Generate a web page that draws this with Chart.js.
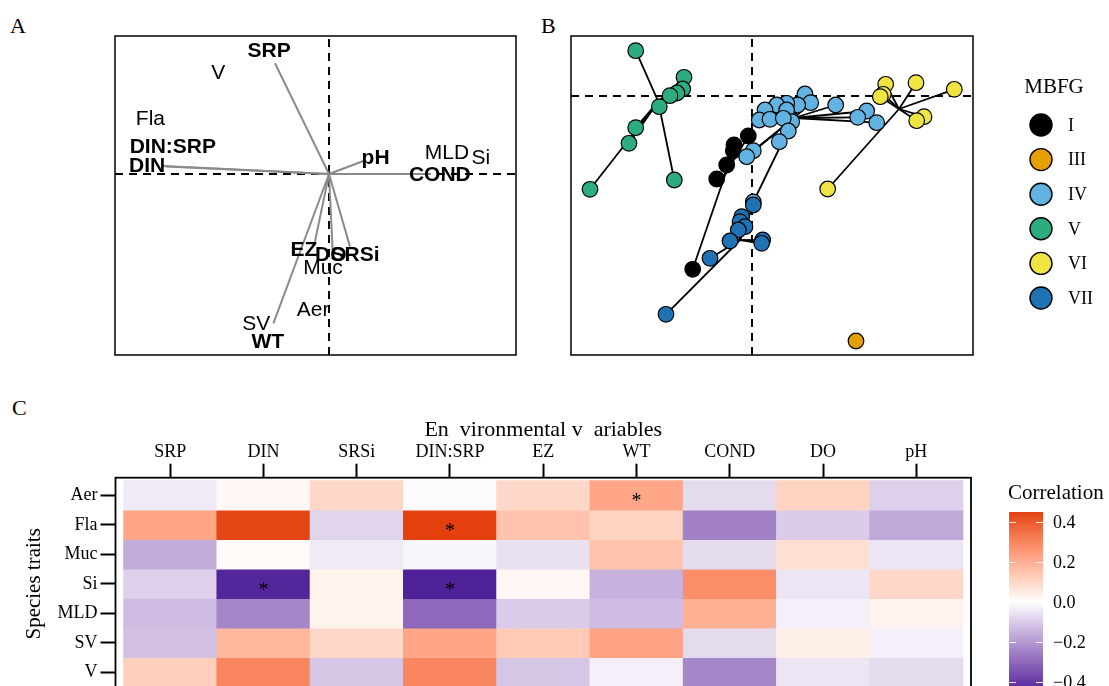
<!DOCTYPE html>
<html>
<head>
<meta charset="utf-8">
<script src="https://cdn.jsdelivr.net/npm/chart.js@4/dist/chart.umd.min.js"></script>
<style>
  html, body { margin: 0; padding: 0; width: 1109px; height: 686px; overflow: hidden; background: #fff; }
  canvas { position: absolute; }
  .tag { position: absolute; font-family: "Liberation Serif", "Times New Roman", serif; font-size: 22px; line-height: 22px; color: #000; }
</style>
</head>
<body>
<div class="tag" style="left:10px;top:15px">A</div>
<div class="tag" style="left:541px;top:15px">B</div>
<div class="tag" style="left:12px;top:397px">C</div>
<canvas id="panelA" width="430" height="350" style="left:100px;top:20px"></canvas>
<canvas id="panelB" width="549" height="350" style="left:560px;top:20px"></canvas>
<canvas id="panelC" width="1109" height="330" style="left:0px;top:380px"></canvas>
<script>
// ---------- Panel A: RDA biplot (environmental arrows + species-trait scores) ----------
const envVars   = ['SRP', 'DIN', 'SRSi', 'DIN:SRP', 'EZ', 'WT', 'COND', 'DO', 'pH'];
const envArrowX = [-0.270, -0.828, 0.105, -0.815, -0.072, -0.278, 0.510, 0.018, 0.172];
const envArrowY = [ 0.554,  0.040, -0.363, 0.037, -0.347, -0.747, 0.000, -0.380, 0.065];
const envLabelX = [-0.299, -0.909, 0.130, -0.781, -0.125, -0.306, 0.554, 0.009, 0.233];
const envLabelY = [ 0.612,  0.041, -0.405, 0.133, -0.380, -0.839, -0.004, -0.405, 0.079];

const traitNames  = ['Aer', 'Fla', 'Muc', 'Si', 'MLD', 'SV', 'V'];
const traitScoreX = [-0.079, -0.893, -0.030, 0.759, 0.590, -0.364, -0.554];
const traitScoreY = [-0.680,  0.274, -0.472, 0.077, 0.104, -0.750,  0.504];

// ---------- Panel B: site scores by MBFG group, joined to group centroids ----------
const groups      = ['I', 'III', 'IV', 'V', 'VI', 'VII'];
const groupColors = ['#000000', '#E69F00', '#62B3E2', '#2DAC80', '#F0E442', '#1F72B3'];

const xI   = [-0.037, -0.180, -0.187, -0.253, -0.353, -0.593];
const yI   = [-0.400, -0.490, -0.547, -0.690, -0.830, -1.733];
const xIII = [1.040];
const yIII = [-2.450];
const xIV  = [0.530, 0.587, 0.457, 0.347, 0.247, 0.130, 0.837, 1.147, 1.057, 1.247,
              0.073, 0.180, 0.347, 0.397, 0.313, 0.363, 0.273, 0.013, -0.053, 0.013];
const yIV  = [0.020, -0.067, -0.090, -0.073, -0.090, -0.140, -0.090, -0.150, -0.213, -0.267,
              -0.240, -0.233, -0.140, -0.257, -0.223, -0.350, -0.457, -0.547, -0.607, -1.060];
const xV   = [-1.163, -0.680, -0.693, -0.750, -0.820, -0.927, -1.163, -1.230, -1.620, -0.777];
const yV   = [ 0.453,  0.187,  0.070,  0.030,  0.003, -0.107, -0.317, -0.473, -0.933, -0.840];
const xVI  = [1.337, 1.640, 2.023, 1.313, 1.283, 1.720, 1.647, 0.757];
const yVI  = [0.117, 0.133, 0.067, 0.017, -0.007, -0.207, -0.247, -0.930];
const xVII = [0.013, -0.103, -0.120, -0.070, -0.137, -0.220, 0.107, 0.097, -0.420, -0.860];
const yVII = [-1.090, -1.207, -1.257, -1.307, -1.340, -1.450, -1.440, -1.473, -1.623, -2.183];

const centroidX = [-0.267, 1.040, 0.420, -0.937, 1.470, -0.120];
const centroidY = [-0.782, -2.450, -0.220, -0.057, -0.130, -1.440];

// ---------- Panel C: trait x environment correlations ----------
const heatCols = ['SRP', 'DIN', 'SRSi', 'DIN:SRP', 'EZ', 'WT', 'COND', 'DO', 'pH'];
const heatRows = ['Aer', 'Fla', 'Muc', 'Si', 'MLD', 'SV', 'V'];
const corAer = [-0.04,  0.02,  0.10, -0.01,  0.10,  0.22, -0.07,  0.11, -0.09];
const corFla = [ 0.22,  0.44, -0.08,  0.45,  0.15,  0.11, -0.25, -0.10, -0.17];
const corMuc = [-0.16,  0.01, -0.04, -0.02, -0.06,  0.15, -0.07,  0.08, -0.05];
const corSi  = [-0.09, -0.44,  0.03, -0.45,  0.02, -0.15,  0.28, -0.05,  0.10];
const corMLD = [-0.13, -0.24,  0.03, -0.30, -0.10, -0.13,  0.20, -0.03,  0.03];
const corSV  = [-0.12,  0.18,  0.10,  0.22,  0.13,  0.23, -0.07,  0.04, -0.03];
const corV   = [ 0.12,  0.30, -0.11,  0.30, -0.11, -0.03, -0.24, -0.05, -0.07];
const sigRow = ['Aer', 'Fla', 'Si', 'Si'];
const sigCol = ['WT', 'DIN:SRP', 'DIN', 'DIN:SRP'];
const colorbarTicks = [0.4, 0.2, 0.0, -0.2, -0.4];

const SERIF = '"Liberation Serif", "Times New Roman", serif';
const SANS  = '"Liberation Sans", Arial, sans-serif';

// Diverging fill: low -> white -> high, interpolated in CIE Lab
const lowColor = '#4F2199', highColor = '#E3400E';
function hexToRgb(h) { h = h.replace('#', ''); return [0, 2, 4].map(i => parseInt(h.substr(i, 2), 16)); }
function toLin(c) { c /= 255; return c <= 0.04045 ? c / 12.92 : Math.pow((c + 0.055) / 1.055, 2.4); }
function toSrgb(c) { c = c <= 0.0031308 ? 12.92 * c : 1.055 * Math.pow(c, 1 / 2.4) - 0.055; return Math.round(Math.max(0, Math.min(1, c)) * 255); }
function rgbToLab(rgb) {
  const [r, g, b] = rgb.map(toLin);
  const X = (0.4124 * r + 0.3576 * g + 0.1805 * b) / 0.95047;
  const Y = (0.2126 * r + 0.7152 * g + 0.0722 * b);
  const Z = (0.0193 * r + 0.1192 * g + 0.9505 * b) / 1.08883;
  const f = t => t > 0.008856 ? Math.cbrt(t) : 7.787 * t + 16 / 116;
  const fx = f(X), fy = f(Y), fz = f(Z);
  return [116 * fy - 16, 500 * (fx - fy), 200 * (fy - fz)];
}
function labToRgb([L, a, b]) {
  const fy = (L + 16) / 116, fx = fy + a / 500, fz = fy - b / 200;
  const inv = t => t * t * t > 0.008856 ? t * t * t : (t - 16 / 116) / 7.787;
  const X = inv(fx) * 0.95047, Y = inv(fy), Z = inv(fz) * 1.08883;
  return [
    toSrgb( 3.2406 * X - 1.5372 * Y - 0.4986 * Z),
    toSrgb(-0.9689 * X + 1.8758 * Y + 0.0415 * Z),
    toSrgb( 0.0557 * X - 0.2040 * Y + 1.0570 * Z)
  ];
}
const labWhite = rgbToLab([255, 255, 255]);
const labLow = rgbToLab(hexToRgb(lowColor));
const labHigh = rgbToLab(hexToRgb(highColor));
const corRows = [corAer, corFla, corMuc, corSi, corMLD, corSV, corV];
const allCor = corRows.flat();
const corMax = Math.max(...allCor), corMin = Math.min(...allCor);
const corLimit = Math.max(Math.abs(corMax), Math.abs(corMin));
function fillFor(v) {
  const t = Math.max(-1, Math.min(1, v / corLimit));
  const end = t >= 0 ? labHigh : labLow;
  const k = Math.abs(t);
  const lab = labWhite.map((w, i) => w + (end[i] - w) * k);
  const [r, g, b] = labToRgb(lab);
  return `rgb(${r},${g},${b})`;
}

const baseOptions = {
  responsive: false,
  animation: false,
  devicePixelRatio: 1,
  events: [],
  plugins: { legend: { display: false }, tooltip: { enabled: false } }
};

function framePlugin(width) {
  return {
    id: 'panelFrame',
    afterDraw(chart) {
      const { ctx, chartArea: a } = chart;
      ctx.save();
      ctx.strokeStyle = '#000';
      ctx.lineWidth = width;
      ctx.strokeRect(a.left, a.top, a.right - a.left, a.bottom - a.top);
      ctx.restore();
    }
  };
}

function zeroLines(xMin, xMax, yMin, yMax) {
  const style = { type: 'scatter', showLine: true, pointRadius: 0, borderColor: '#000', borderWidth: 2, borderDash: [8, 6] };
  return [
    Object.assign({ data: [{ x: xMin, y: 0 }, { x: xMax, y: 0 }] }, style),
    Object.assign({ data: [{ x: 0, y: yMin }, { x: 0, y: yMax }] }, style)
  ];
}

// ---------- Panel A ----------
const aX = [-1.07, 0.935], aY = [-0.905, 0.69];
const arrowSets = envVars.map((name, i) => ({
  type: 'scatter', label: name, showLine: true, pointRadius: 0,
  borderColor: '#8a8a8a', borderWidth: 2,
  data: [{ x: 0, y: 0 }, { x: envArrowX[i], y: envArrowY[i] }]
}));
const biplotText = {
  id: 'biplotText',
  afterDatasetsDraw(chart) {
    const { ctx, scales: { x, y } } = chart;
    ctx.save();
    ctx.textAlign = 'center';
    ctx.textBaseline = 'middle';
    ctx.fillStyle = '#000';
    ctx.font = `21px ${SANS}`;
    traitNames.forEach((t, i) => ctx.fillText(t, x.getPixelForValue(traitScoreX[i]), y.getPixelForValue(traitScoreY[i])));
    ctx.font = `bold 21px ${SANS}`;
    envVars.forEach((n, i) => ctx.fillText(n, x.getPixelForValue(envLabelX[i]), y.getPixelForValue(envLabelY[i])));
    ctx.restore();
  }
};
new Chart(document.getElementById('panelA'), {
  type: 'scatter',
  data: { datasets: [...arrowSets, ...zeroLines(aX[0], aX[1], aY[0], aY[1])] },
  options: Object.assign({}, baseOptions, {
    layout: { padding: { left: 15, top: 16, right: 14, bottom: 15 } },
    scales: {
      x: { type: 'linear', min: aX[0], max: aX[1], display: false },
      y: { type: 'linear', min: aY[0], max: aY[1], display: false }
    }
  }),
  plugins: [biplotText, framePlugin(1.5)]
});

// ---------- Panel B ----------
const bX = [-1.81, 2.21], bY = [-2.59, 0.60];
const groupXs = [xI, xIII, xIV, xV, xVI, xVII];
const groupYs = [yI, yIII, yIV, yV, yVI, yVII];
const drawOrder = [5, 4, 3, 2, 1, 0]; // first dataset ends up on top
const pointSets = drawOrder.map(g => ({
  type: 'scatter', label: groups[g], showLine: false,
  pointRadius: 7.8, pointBorderWidth: 1.2,
  backgroundColor: groupColors[g], borderColor: '#000',
  data: groupXs[g].map((x, k) => ({ x, y: groupYs[g][k] }))
}));
const spiderSets = [];
groups.forEach((g, gi) => {
  groupXs[gi].forEach((x, k) => {
    spiderSets.push({
      type: 'scatter', showLine: true, pointRadius: 0,
      borderColor: '#000', borderWidth: 1.8,
      data: [{ x, y: groupYs[gi][k] }, { x: centroidX[gi], y: centroidY[gi] }]
    });
  });
});
const mbfgLegend = {
  id: 'mbfgLegend',
  afterDraw(chart) {
    const { ctx, chartArea: a } = chart;
    ctx.save();
    ctx.fillStyle = '#000';
    ctx.textBaseline = 'middle';
    ctx.textAlign = 'center';
    ctx.font = `21px ${SERIF}`;
    ctx.fillText('MBFG', a.right + 81, a.top + 51);
    ctx.textAlign = 'left';
    ctx.font = `18px ${SERIF}`;
    groups.forEach((g, i) => {
      const cy = a.top + 89 + i * 34.6;
      ctx.beginPath();
      ctx.arc(a.right + 68, cy, 11, 0, Math.PI * 2);
      ctx.fillStyle = groupColors[i];
      ctx.fill();
      ctx.lineWidth = 1.4;
      ctx.strokeStyle = '#000';
      ctx.stroke();
      ctx.fillStyle = '#000';
      ctx.fillText(g, a.right + 95, cy + 1);
    });
    ctx.restore();
  }
};
new Chart(document.getElementById('panelB'), {
  type: 'scatter',
  data: { datasets: [...pointSets, ...spiderSets, ...zeroLines(bX[0], bX[1], bY[0], bY[1])] },
  options: Object.assign({}, baseOptions, {
    layout: { padding: { left: 11, top: 16, right: 136, bottom: 15 } },
    scales: {
      x: { type: 'linear', min: bX[0], max: bX[1], display: false },
      y: { type: 'linear', min: bY[0], max: bY[1], display: false }
    }
  }),
  plugins: [mbfgLegend, framePlugin(1.5)]
});

// ---------- Panel C ----------
const heatSets = heatRows.map((r, i) => ({
  label: r,
  data: heatCols.map((c, j) => ({ x: j + 0.5, y: [i, i + 1] })),
  backgroundColor: corRows[i].map(fillFor),
  borderWidth: 0,
  grouped: false,
  categoryPercentage: 1,
  barPercentage: 1
}));
const tickFont = { family: SERIF, size: 18 };
const starsAndColorbar = {
  id: 'starsAndColorbar',
  afterDatasetsDraw(chart) {
    const { ctx, scales: { x, y } } = chart;
    ctx.save();
    ctx.fillStyle = '#000';
    ctx.textAlign = 'center';
    ctx.textBaseline = 'alphabetic';
    ctx.font = `20px ${SERIF}`;
    sigRow.forEach((r, k) => {
      const px = x.getPixelForValue(heatCols.indexOf(sigCol[k]) + 0.5);
      const py = y.getPixelForValue(heatRows.indexOf(r) + 0.5);
      ctx.fillText('*', px, py + 12);
    });
    ctx.restore();
  },
  afterDraw(chart) {
    const { ctx, chartArea: a } = chart;
    const left = a.right + 38, width = 34;
    const zeroY = a.top + 124.3, perUnit = 200;
    const valY = v => zeroY - v * perUnit;
    const top = valY(corMax), bottom = valY(corMin);
    ctx.save();
    for (let py = Math.floor(top); py < bottom; py++) {
      const v = (zeroY - (py + 0.5)) / perUnit;
      ctx.fillStyle = fillFor(v);
      ctx.fillRect(left, py, width, 1);
    }
    ctx.strokeStyle = 'rgba(255,255,255,0.9)';
    ctx.lineWidth = 1;
    colorbarTicks.forEach(v => {
      const py = Math.round(valY(v)) + 0.5;
      ctx.beginPath();
      ctx.moveTo(left, py); ctx.lineTo(left + 7, py);
      ctx.moveTo(left + width - 7, py); ctx.lineTo(left + width, py);
      ctx.stroke();
    });
    ctx.fillStyle = '#000';
    ctx.textAlign = 'left';
    ctx.textBaseline = 'middle';
    ctx.font = `18px ${SERIF}`;
    colorbarTicks.forEach(v => {
      const txt = (v < 0 ? '\u2212' : '') + Math.abs(v).toFixed(1);
      ctx.fillText(txt, left + width + 10, valY(v) + 1);
    });
    ctx.font = `21px ${SERIF}`;
    ctx.fillText('Correlation', left - 1, a.top + 15.5);
    ctx.restore();
  }
};
new Chart(document.getElementById('panelC'), {
  type: 'bar',
  data: { datasets: heatSets },
  options: Object.assign({}, baseOptions, {
    layout: { padding: { left: 0, top: 30, right: 138, bottom: 20 } },
    scales: {
      x: {
        type: 'linear', position: 'top', min: -0.086, max: 9.086, bounds: 'data', offset: false,
        grid: { display: true, offset: false, drawOnChartArea: false, drawTicks: true, tickLength: 14, tickWidth: 2, tickColor: '#000' },
        border: { display: false },
        ticks: { autoSkip: false, maxRotation: 0, padding: 1, font: tickFont, color: '#000', callback: (v, i) => heatCols[i] },
        afterBuildTicks: s => { s.ticks = heatCols.map((c, j) => ({ value: j + 0.5 })); },
        afterFit: s => { s.height = 67.7; },
        title: { display: true, text: 'En  vironmental v  ariables', color: '#000', font: { family: SERIF, size: 22 }, padding: { top: 7, bottom: 0 } }
      },
      y: {
        type: 'linear', reverse: true, min: -0.1, max: 7.1, bounds: 'data',
        grid: { display: true, drawOnChartArea: false, drawTicks: true, tickLength: 15, tickWidth: 2, tickColor: '#000' },
        border: { display: false },
        ticks: { autoSkip: false, padding: 3, font: tickFont, color: '#000', callback: (v, i) => heatRows[i] },
        afterBuildTicks: s => { s.ticks = heatRows.map((r, i) => ({ value: i + 0.5 })); },
        afterFit: s => { s.width = 115.5; },
        title: { display: true, text: 'Species traits', color: '#000', font: { family: SERIF, size: 21 }, padding: { top: 22, bottom: 0 } }
      }
    }
  }),
  plugins: [starsAndColorbar, framePlugin(1.8)]
});
</script>
</body>
</html>
